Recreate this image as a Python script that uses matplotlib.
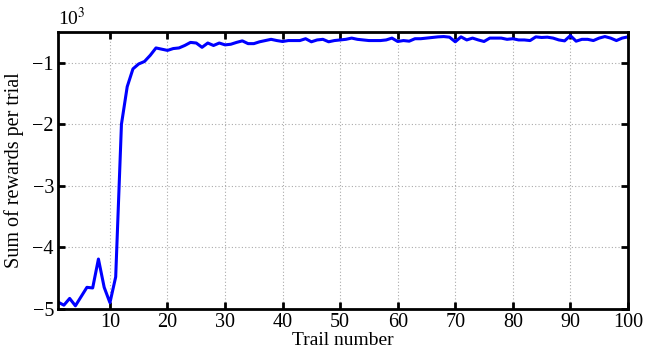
import numpy as np
import matplotlib.pyplot as plt

# trial index and reward sum (x1000)
trials = np.arange(1, 101)
rewards = [
    -4.89, -4.94, -4.83, -4.95, -4.80, -4.65, -4.66, -4.19, -4.65, -4.90,
    -4.48, -2.00, -1.39, -1.10, -1.02, -0.98, -0.88, -0.76, -0.78, -0.80,
    -0.77, -0.76, -0.72, -0.67, -0.68, -0.75, -0.68, -0.72, -0.68, -0.71,
    -0.70, -0.67, -0.645, -0.69, -0.69, -0.66, -0.64, -0.62, -0.64, -0.655,
    -0.64, -0.64, -0.64, -0.61, -0.66, -0.63, -0.62, -0.66, -0.64, -0.63,
    -0.62, -0.60, -0.62, -0.63, -0.64, -0.64, -0.64, -0.63, -0.60, -0.655,
    -0.64, -0.65, -0.61, -0.61, -0.60, -0.59, -0.58, -0.575, -0.585, -0.66,
    -0.58, -0.63, -0.60, -0.63, -0.655, -0.60, -0.60, -0.60, -0.62, -0.61,
    -0.63, -0.63, -0.64, -0.58, -0.59, -0.585, -0.60, -0.63, -0.645, -0.56,
    -0.65, -0.62, -0.62, -0.64, -0.60, -0.575, -0.60, -0.64, -0.60, -0.58,
]
rewards = np.array(rewards) * 1000

xticks = list(range(10, 101, 10))
yticks = [-5000, -4000, -3000, -2000, -1000]
yticklabels = ["\u22125", "\u22124", "\u22123", "\u22122", "\u22121"]

plt.rcParams["font.family"] = ["Liberation Serif", "DejaVu Serif"]
plt.rcParams["font.size"] = 14

fig = plt.figure(figsize=(6.46, 3.51), dpi=100)
ax = fig.add_axes([0.09, 0.12, 0.882, 0.789])

ax.plot(trials, rewards, color="#0000ff", linewidth=2.2)

ax.set_xlim(1, 100)
ax.set_ylim(-5000, -500)
ax.set_xticks(xticks)
ax.set_yticks(yticks)
ax.set_yticklabels(yticklabels)
ax.grid(True, linestyle=(0, (1, 2)), color="#aaaaaa", linewidth=0.8)
ax.tick_params(direction="in", length=5, width=2, top=True, right=True,
               labelsize=14.5, pad=3)
for s in ax.spines.values():
    s.set_linewidth(2)

ax.set_xlabel("Trail number", fontsize=14, labelpad=0)
ax.set_ylabel("Sum of rewards per trial", fontsize=14.5, labelpad=6)
ax.text(0, 1.01, "10$^3$", transform=ax.transAxes, ha="left", va="bottom",
        fontsize=14, math_fontfamily="stix")

fig.savefig("out.png", dpi=100)
